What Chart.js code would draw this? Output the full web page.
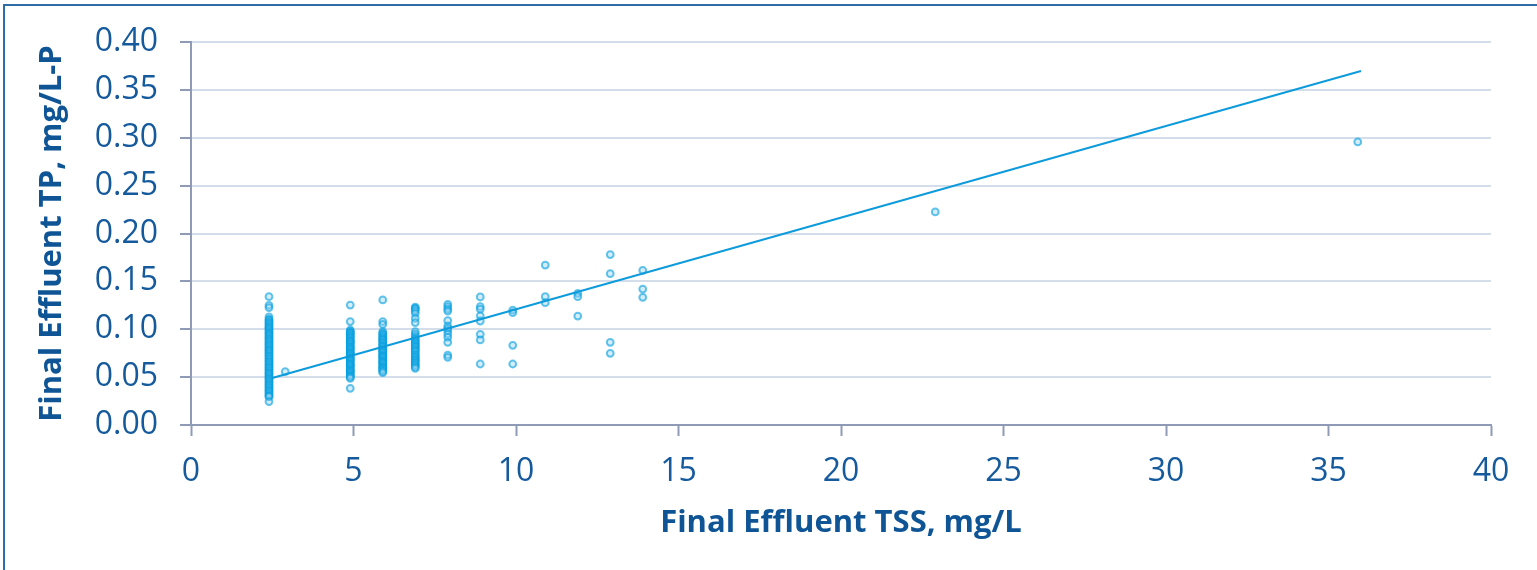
<!DOCTYPE html>
<html>
<head>
<meta charset="utf-8">
<style>
  html, body { margin: 0; padding: 0; background: #ffffff; }
  #wrap { position: relative; width: 1537px; height: 570px; }
  canvas { display: block; }
</style>
<script src="https://cdn.jsdelivr.net/npm/chart.js@4.4.0/dist/chart.umd.min.js"></script>
</head>
<body>
<div id="wrap"><canvas id="c" width="1537" height="570"></canvas></div>
<script>
// ---- Data ----
const col24 = [0.134, 0.125, 0.1225, 0.113, 0.1105, 0.1095, 0.108, 0.107, 0.1055, 0.1045, 0.103, 0.102, 0.101, 0.0995, 0.0985, 0.097, 0.096, 0.095, 0.0935, 0.0925, 0.091, 0.090, 0.089, 0.0875, 0.0865, 0.085, 0.084, 0.083, 0.0815, 0.0805, 0.079, 0.078, 0.077, 0.0755, 0.0745, 0.073, 0.072, 0.071, 0.0695, 0.0685, 0.067, 0.066, 0.065, 0.0635, 0.0625, 0.061, 0.060, 0.059, 0.0575, 0.0565, 0.055, 0.054, 0.053, 0.0515, 0.0505, 0.049, 0.048, 0.047, 0.0455, 0.0445, 0.043, 0.042, 0.041, 0.0395, 0.0385, 0.037, 0.036, 0.035, 0.0335, 0.0325, 0.031, 0.030, 0.0295, 0.0245];
const col29 = [0.0557];
const col49 = [0.1253, 0.108, 0.0992, 0.098, 0.097, 0.096, 0.0955, 0.094, 0.093, 0.092, 0.091, 0.090, 0.0885, 0.0875, 0.087, 0.086, 0.085, 0.084, 0.0825, 0.0815, 0.081, 0.080, 0.079, 0.078, 0.0765, 0.0755, 0.075, 0.074, 0.073, 0.072, 0.0705, 0.0695, 0.069, 0.068, 0.067, 0.066, 0.0645, 0.0635, 0.063, 0.062, 0.061, 0.060, 0.0585, 0.0575, 0.057, 0.056, 0.055, 0.054, 0.0525, 0.0515, 0.051, 0.050, 0.0488, 0.0383];
const col59 = [0.1306, 0.108, 0.105, 0.0975, 0.096, 0.095, 0.0935, 0.0922, 0.091, 0.090, 0.089, 0.088, 0.0865, 0.0855, 0.084, 0.083, 0.082, 0.081, 0.0795, 0.0785, 0.078, 0.077, 0.076, 0.075, 0.0735, 0.0725, 0.072, 0.071, 0.070, 0.069, 0.0675, 0.0665, 0.066, 0.065, 0.064, 0.063, 0.0615, 0.0605, 0.060, 0.059, 0.058, 0.057, 0.0560, 0.0546];
const col69 = [0.123, 0.122, 0.121, 0.119, 0.1166, 0.1114, 0.107, 0.0975, 0.095, 0.0925, 0.0905, 0.0895, 0.088, 0.087, 0.0855, 0.0845, 0.083, 0.082, 0.081, 0.0795, 0.0785, 0.077, 0.076, 0.074, 0.073, 0.0715, 0.0705, 0.069, 0.068, 0.067, 0.0655, 0.0645, 0.063, 0.062, 0.0605, 0.0592];
const col79 = [0.126, 0.1235, 0.121, 0.119, 0.109, 0.1034, 0.101, 0.0985, 0.095, 0.0916, 0.0863, 0.073, 0.0707];
const col89 = [0.1337, 0.1236, 0.121, 0.114, 0.1086, 0.0947, 0.0888, 0.0637];
const col99 = [0.120, 0.1173, 0.0832, 0.0637];
const col109 = [0.167, 0.134, 0.1278];
const col119 = [0.1375, 0.134, 0.1138];
const col129 = [0.178, 0.158, 0.0863, 0.0749];
const col139 = [0.1615, 0.142, 0.1333];
const col229 = [0.2225];
const col359 = [0.2956];

const tssColumns = [2.4, 2.9, 4.9, 5.9, 6.9, 7.9, 8.9, 9.9, 10.9, 11.9, 12.9, 13.9, 22.9, 35.9];
const tpColumns  = [col24, col29, col49, col59, col69, col79, col89, col99, col109, col119, col129, col139, col229, col359];

// Linear trend line end points
const trendX = [2.5, 36];
const trendY = [0.049, 0.3697];

const xTickLabels = ['0', '5', '10', '15', '20', '25', '30', '35', '40'];
const yTickLabels = ['0.00', '0.05', '0.10', '0.15', '0.20', '0.25', '0.30', '0.35', '0.40'];

// ---- Build datasets ----
const scatterPoints = [];
tssColumns.forEach((x, i) => tpColumns[i].forEach(y => scatterPoints.push({x: x, y: y})));
const trendPoints = trendX.map((x, i) => ({x: x, y: trendY[i]}));

const labelColor = '#155a9c';
const titleColor = '#0f5596';
const axisColor = '#8f9bb6';
const gridColor = '#d3deea';

const frame = {
  id: 'frame',
  afterDraw(chart) {
    const ctx = chart.ctx;
    ctx.save();
    ctx.strokeStyle = '#2f6da6';
    ctx.lineWidth = 2;
    ctx.beginPath();
    ctx.moveTo(4, 570);
    ctx.lineTo(4, 5);
    ctx.lineTo(1537, 5);
    ctx.stroke();
    ctx.restore();
  }
};

new Chart(document.getElementById('c'), {
  type: 'scatter',
  data: {
    datasets: [
      {
        label: 'TP vs TSS',
        data: scatterPoints,
        pointRadius: 3.4,
        pointBorderWidth: 2,
        borderColor: 'rgba(0,158,224,0.6)',
        backgroundColor: 'rgba(150,210,240,0.4)',
        order: 2
      },
      {
        type: 'line',
        label: 'Linear',
        data: trendPoints,
        borderColor: '#0e9bdb',
        borderWidth: 2,
        pointRadius: 0,
        fill: false,
        order: 1
      }
    ]
  },
  options: {
    responsive: false,
    animation: false,
    layout: { padding: { left: 0, top: 42, right: 46, bottom: 0 } },
    plugins: { legend: { display: false }, tooltip: { enabled: false } },
    scales: {
      x: {
        type: 'linear',
        min: 0, max: 40,
        afterFit(s) { s.height = 145; },
        border: { display: true, color: axisColor, width: 2 },
        grid: { drawOnChartArea: false, drawTicks: true, tickLength: 11, tickColor: axisColor, tickWidth: 2 },
        ticks: {
          stepSize: 5,
          padding: 17,
          color: labelColor,
          font: { family: 'Open Sans', size: 32 },
          callback: (v, i) => xTickLabels[i]
        },
        title: {
          display: true,
          text: 'Final Effluent TSS, mg/L',
          color: titleColor,
          font: { family: 'Open Sans', size: 31, weight: 'bold' },
          padding: { top: 0, bottom: 28 }
        }
      },
      y: {
        type: 'linear',
        min: 0, max: 0.4,
        afterFit(s) { s.width = 191; },
        border: { display: true, color: axisColor, width: 2 },
        grid: { color: gridColor, lineWidth: 2, drawTicks: true, tickLength: 11, tickColor: axisColor, tickWidth: 2 },
        ticks: {
          stepSize: 0.05,
          padding: 22,
          color: labelColor,
          font: { family: 'Open Sans', size: 32 },
          callback: (v, i) => yTickLabels[i]
        },
        title: {
          display: true,
          text: 'Final Effluent TP, mg/L-P',
          color: titleColor,
          font: { family: 'Open Sans', size: 31, weight: 'bold' },
          padding: { top: 34, bottom: 0 }
        }
      }
    }
  },
  plugins: [frame]
});
</script>
</body>
</html>
